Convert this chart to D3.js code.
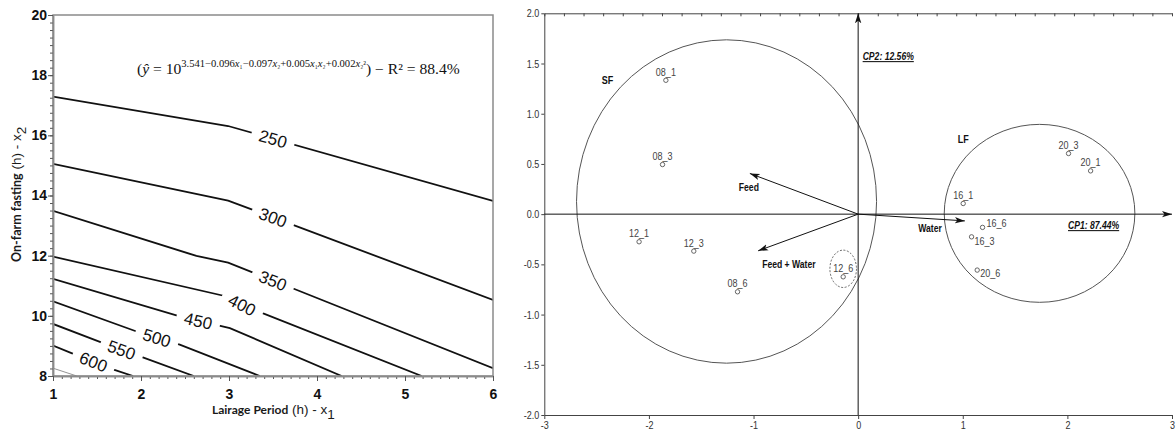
<!DOCTYPE html>
<html>
<head>
<meta charset="utf-8">
<script src="https://cdn.jsdelivr.net/npm/d3@7"></script>
<style>
  body { margin: 0; background: #fff; }
  svg { display: block; }
</style>
</head>
<body>
<svg id="chart" width="1176" height="437"></svg>
<script>
// ---- left panel: contour of y-hat over lairage (x1) and fasting (x2)
const contourLevels = [250, 300, 350, 400, 450, 500, 550, 600, 650];
const contourLines = [
  [[1, 17.29], [2.99, 16.31], [6, 13.82]],
  [[1, 15.05], [2.99, 13.83], [6, 10.53]],
  [[1, 13.49], [2.63, 11.99], [2.99, 11.77], [6, 8.26]],
  [[1, 11.97], [2.95, 10.66], [3.15, 10.36], [5.19, 8]],
  [[1, 11.23], [2.44, 9.98], [3.01, 9.59], [4.28, 8]],
  [[1, 10.48], [1.95, 9.48], [2.44, 9.04], [3.35, 8]],
  [[1, 9.73], [1.57, 9.09], [1.99, 8.65], [2.6, 8]],
  [[1, 9.01], [1.21, 8.76], [1.69, 8.21], [1.91, 8]],
  [[1, 8.26], [1.27, 8]]
];
const contourLabelAt = [3.5, 3.5, 3.5, 3.15, 2.65, 2.18, 1.78, 1.46, null];
const lairageTicks = [1, 2, 3, 4, 5, 6];
const fastingTicks = [8, 10, 12, 14, 16, 18, 20];

// ---- right panel: PCA biplot
const sampleNames = ["08_1", "08_3", "08_6", "12_1", "12_3", "12_6", "16_1", "16_3", "16_6", "20_1", "20_3", "20_6"];
const cp1Scores = [-1.838, -1.870, -1.153, -2.094, -1.571, -0.143, 1.004, 1.084, 1.189, 2.222, 2.011, 1.138];
const cp2Scores = [1.333, 0.494, -0.773, -0.275, -0.368, -0.624, 0.106, -0.226, -0.132, 0.431, 0.604, -0.557];
const loadingNames = ["Feed", "Feed + Water", "Water"];
const loadingCP1 = [-1.035, -0.956, 1.020];
const loadingCP2 = [0.405, -0.365, -0.067];
const groupNames = ["SF", "LF"];
const groupCP1 = [-1.258, 1.734];
const groupCP2 = [0.126, 0.008];
const groupSpreadCP1 = [1.434, 0.911];
const groupSpreadCP2 = [1.61, 0.886];
const groupLabelCP1 = [-2.45, 0.953];
const groupLabelCP2 = [1.30, 0.706];
const cpTicks = [-3, -2, -1, 0, 1, 2, 3];
const cp2Ticks = [-2, -1.5, -1, -0.5, 0, 0.5, 1, 1.5, 2];

const svg = d3.select("#chart");
const arial = "'Liberation Sans', Arial, sans-serif";
const squeeze = 0.82; // fakes the condensed Arial of the biplot

// place a text at (x,y) and squeeze it horizontally
function narrow(sel, fx, fy) {
  sel.attr("x", 0).attr("y", 0)
    .attr("font-family", arial)
    .attr("transform", (d, i) => `translate(${fx(d, i)},${fy(d, i)}) scale(${squeeze},1)`);
}

// ================= left panel =================
const x = d3.scaleLinear().domain([1, 6]).range([53, 493]);
const y = d3.scaleLinear().domain([8, 20]).range([376, 15]);

svg.append("clipPath").attr("id", "clipL")
  .append("rect").attr("x", 53).attr("y", 15).attr("width", 440).attr("height", 361);

const line = d3.line().x(d => x(d[0])).y(d => y(d[1]));
const gC = svg.append("g").attr("clip-path", "url(#clipL)");
gC.selectAll("path")
  .data(contourLines)
  .join("path")
    .attr("d", line)
    .attr("fill", "none")
    .attr("stroke", (d, i) => contourLevels[i] === 650 ? "#777" : "#111")
    .attr("stroke-width", (d, i) => contourLevels[i] === 650 ? 0.8 : 1.8);

function pointOn(pts, xv) {
  for (let i = 0; i < pts.length - 1; i++) {
    const a = pts[i], b = pts[i + 1];
    if (xv >= a[0] && xv <= b[0]) {
      const t = (xv - a[0]) / (b[0] - a[0]);
      const yv = a[1] + t * (b[1] - a[1]);
      const ang = Math.atan2(y(b[1]) - y(a[1]), x(b[0]) - x(a[0])) * 180 / Math.PI;
      return [x(xv), y(yv), ang];
    }
  }
}

contourLevels.forEach((lev, i) => {
  if (contourLabelAt[i] == null) return;
  const p = pointOn(contourLines[i], contourLabelAt[i]);
  const g = gC.append("g").attr("transform", `translate(${p[0]},${p[1]}) rotate(${p[2]})`);
  const t = g.append("text")
    .attr("text-anchor", "middle").attr("dy", "0.36em")
    .attr("font-family", arial).attr("font-size", 17)
    .attr("fill", "#111").text(lev);
  const w = t.node().getComputedTextLength();
  g.insert("rect", "text")
    .attr("x", -w / 2 - 8).attr("y", -7).attr("width", w + 16).attr("height", 14)
    .attr("fill", "#fff");
});

// frame + axes
svg.append("rect").attr("x", 53).attr("y", 15).attr("width", 440).attr("height", 361)
  .attr("fill", "none").attr("stroke", "#8a8a8a").attr("stroke-width", 1.5);

const styleAxis = g => g
  .call(g => g.select(".domain").attr("stroke", "#8a8a8a").attr("stroke-width", 1.5))
  .call(g => g.selectAll(".tick line").attr("stroke", "#555"));

svg.append("g").attr("transform", "translate(53,0)")
  .call(d3.axisLeft(y).tickValues(d3.range(8, 20.001, 0.25)).tickSize(3).tickSizeOuter(0).tickFormat(""))
  .call(styleAxis);
svg.append("g").attr("transform", "translate(53,0)")
  .call(d3.axisLeft(y).tickValues(fastingTicks).tickSize(5).tickPadding(1).tickSizeOuter(0).tickFormat(d3.format("d")))
  .call(styleAxis)
  .call(g => g.selectAll("text").attr("font-family", arial).attr("font-weight", "bold")
    .attr("font-size", 14).attr("fill", "#111"));

svg.append("g").attr("transform", "translate(0,376)")
  .call(d3.axisBottom(x).tickValues(d3.range(1, 6.001, 0.1)).tickSize(3).tickSizeOuter(0).tickFormat(""))
  .call(styleAxis);
svg.append("g").attr("transform", "translate(0,376)")
  .call(d3.axisBottom(x).tickValues(lairageTicks).tickSize(5).tickPadding(8).tickSizeOuter(0).tickFormat(d3.format("d")))
  .call(styleAxis)
  .call(g => g.selectAll("text").attr("font-family", arial).attr("font-weight", "bold")
    .attr("font-size", 14).attr("fill", "#111"));

// axis titles
const xt = svg.append("text").attr("x", 212).attr("y", 414).attr("fill", "#1a1a1a");
xt.append("tspan").attr("font-family", "Lato, 'Open Sans', sans-serif").attr("font-weight", "bold")
  .attr("font-size", 12).text("Lairage Period");
xt.append("tspan").attr("font-family", arial).attr("font-size", 13.5).text(" (h) - x");
xt.append("tspan").attr("font-family", arial).attr("font-size", 13.5).attr("dy", 5).text("1");

const yt = svg.append("text").attr("transform", "translate(21,262) rotate(-90)").attr("fill", "#1a1a1a");
yt.append("tspan").attr("font-family", "Lato, 'Open Sans', sans-serif").attr("font-weight", "bold")
  .attr("font-size", 12.5).text("On-farm fasting");
yt.append("tspan").attr("font-family", arial).attr("font-size", 13.5).text(" (h) - x");
yt.append("tspan").attr("font-family", arial).attr("font-size", 13.5).attr("dy", 5).text("2");

// regression equation
const serif = "'Liberation Serif', 'DejaVu Serif', serif";
const eq = svg.append("text").attr("x", 137).attr("y", 74)
  .attr("font-family", serif).attr("font-size", 14).attr("fill", "#111");
eq.append("tspan").text("(");
eq.append("tspan").attr("font-style", "italic").text("ŷ");
eq.append("tspan").text(" = 10");
const expParts = [["3.541−0.096", ""], ["x", "₁"], ["−0.097", ""], ["x", "₂"], ["+0.005", ""], ["x", "₁"], ["x", "₂"], ["+0.002", ""], ["x", "₂²"]];
expParts.forEach((p, i) => {
  const ts = eq.append("tspan").attr("font-size", 9.5);
  if (i === 0) ts.attr("dy", -7);
  if (p[0] === "x") { ts.attr("font-style", "italic").text("x"); eq.append("tspan").attr("font-size", 8).text(p[1]); }
  else ts.text(p[0]);
});
eq.append("tspan").attr("dy", 7).text(") − R² = 88.4%");
const eqW = eq.node().getComputedTextLength();
eq.attr("transform", `translate(137,0) scale(${323 / eqW},1) translate(-137,0)`);

// ================= right panel =================
const px = d3.scaleLinear().domain([-3, 3]).range([544.3, 1172]);
const py = d3.scaleLinear().domain([-2, 2]).range([415, 13.3]);

const defs = svg.append("defs");
defs.append("marker").attr("id", "arr").attr("viewBox", "0 -4 10 8")
  .attr("refX", 10).attr("refY", 0).attr("markerWidth", 10).attr("markerHeight", 8)
  .attr("markerUnits", "userSpaceOnUse").attr("orient", "auto")
  .append("path").attr("d", "M0,-3.2L10,0L0,3.2L2.5,0Z").attr("fill", "#111");

const axisR = g => g
  .call(g => g.select(".domain").attr("stroke", "#444").attr("stroke-width", 1))
  .call(g => g.selectAll(".tick line").attr("stroke", "#444"))
  .call(g => g.selectAll("text").attr("font-size", 11).attr("fill", "#333"));

svg.append("g").attr("transform", "translate(544.3,0)")
  .call(d3.axisLeft(py).tickValues(cp2Ticks).tickSize(3).tickPadding(2).tickSizeOuter(0).tickFormat(d => d.toFixed(1)))
  .call(axisR)
  .call(g => g.selectAll("text").call(narrow, () => -5, () => 0));
svg.append("g").attr("transform", "translate(0,415)")
  .call(d3.axisBottom(px).tickValues(cpTicks).tickSize(4).tickPadding(2).tickSizeOuter(0).tickFormat(d => String(d)))
  .call(axisR)
  .call(g => g.selectAll("text").call(narrow, () => 0, () => 6));
svg.append("g").attr("transform", "translate(0,13.3)")
  .call(d3.axisTop(px).tickValues(d3.range(-3, 3.0001, 0.1875)).tickSize(-3).tickSizeOuter(0).tickFormat(""))
  .call(axisR);

// group ellipses
svg.append("g").selectAll("ellipse")
  .data(groupNames)
  .join("ellipse")
    .attr("cx", (d, i) => px(groupCP1[i]))
    .attr("cy", (d, i) => py(groupCP2[i]))
    .attr("rx", (d, i) => px(groupCP1[i] + groupSpreadCP1[i]) - px(groupCP1[i]))
    .attr("ry", (d, i) => py(groupCP2[i]) - py(groupCP2[i] + groupSpreadCP2[i]))
    .attr("fill", "none").attr("stroke", "#555").attr("stroke-width", 1);

svg.append("g").selectAll("text")
  .data(groupNames)
  .join("text")
    .call(narrow, (d, i) => px(groupLabelCP1[i]), (d, i) => py(groupLabelCP2[i]))
    .attr("font-weight", "bold").attr("font-size", 11).attr("fill", "#111")
    .text(d => d);

// dashed ring around the 12_6 outlier
const k = sampleNames.indexOf("12_6");
svg.append("ellipse")
  .attr("cx", px(cp1Scores[k])).attr("cy", py(cp2Scores[k]) - 8)
  .attr("rx", px(0.127) - px(0)).attr("ry", py(0) - py(0.186))
  .attr("fill", "none").attr("stroke", "#555").attr("stroke-width", 0.9).attr("stroke-dasharray", "2,1.6");

// principal axes through origin
svg.append("line").attr("x1", px(-3)).attr("x2", px(3)).attr("y1", py(0)).attr("y2", py(0))
  .attr("stroke", "#111").attr("stroke-width", 1).attr("marker-end", "url(#arr)");
svg.append("line").attr("x1", px(0)).attr("x2", px(0)).attr("y1", py(-2)).attr("y2", py(2))
  .attr("stroke", "#111").attr("stroke-width", 1).attr("marker-end", "url(#arr)");

// loading vectors
const loadLabel = { "Feed": [-1, 18, "middle"], "Feed + Water": [4, 17, "start"], "Water": [-23, 11, "end"] };
const gLoad = svg.append("g");
gLoad.selectAll("line")
  .data(loadingNames)
  .join("line")
    .attr("x1", px(0)).attr("y1", py(0))
    .attr("x2", (d, i) => px(loadingCP1[i])).attr("y2", (d, i) => py(loadingCP2[i]))
    .attr("stroke", "#111").attr("stroke-width", 1).attr("marker-end", "url(#arr)");
gLoad.selectAll("text")
  .data(loadingNames)
  .join("text")
    .call(narrow, (d, i) => px(loadingCP1[i]) + loadLabel[d][0], (d, i) => py(loadingCP2[i]) + loadLabel[d][1])
    .attr("text-anchor", d => loadLabel[d][2])
    .attr("font-weight", "bold").attr("font-size", 10.5).attr("fill", "#111")
    .text(d => d);

// sample scores
const sideLabel = { "16_6": [4, 0], "16_3": [3, 8.5], "20_6": [3, 7] };
const gPts = svg.append("g");
gPts.selectAll("circle")
  .data(sampleNames)
  .join("circle")
    .attr("cx", (d, i) => px(cp1Scores[i]))
    .attr("cy", (d, i) => py(cp2Scores[i]))
    .attr("r", 2.2)
    .attr("fill", "none").attr("stroke", "#555").attr("stroke-width", 0.9);
gPts.selectAll("text")
  .data(sampleNames)
  .join("text")
    .call(narrow,
      (d, i) => px(cp1Scores[i]) + (sideLabel[d] ? sideLabel[d][0] : 0),
      (d, i) => py(cp2Scores[i]) + (sideLabel[d] ? sideLabel[d][1] : -4.5))
    .attr("text-anchor", d => sideLabel[d] ? "start" : "middle")
    .attr("font-size", 11).attr("fill", "#444")
    .text(d => d);

// axis captions
const caps = [["CP2: 12.56%", px(0) + 4.5, 60], ["CP1: 87.44%", 1068, 229]];
svg.append("g").selectAll("text")
  .data(caps)
  .join("text")
    .call(narrow, d => d[1], d => d[2])
    .attr("font-weight", "bold").attr("font-style", "italic")
    .attr("font-size", 10.5).attr("fill", "#111")
    .attr("text-decoration", "underline")
    .text(d => d[0]);
</script>
</body>
</html>
